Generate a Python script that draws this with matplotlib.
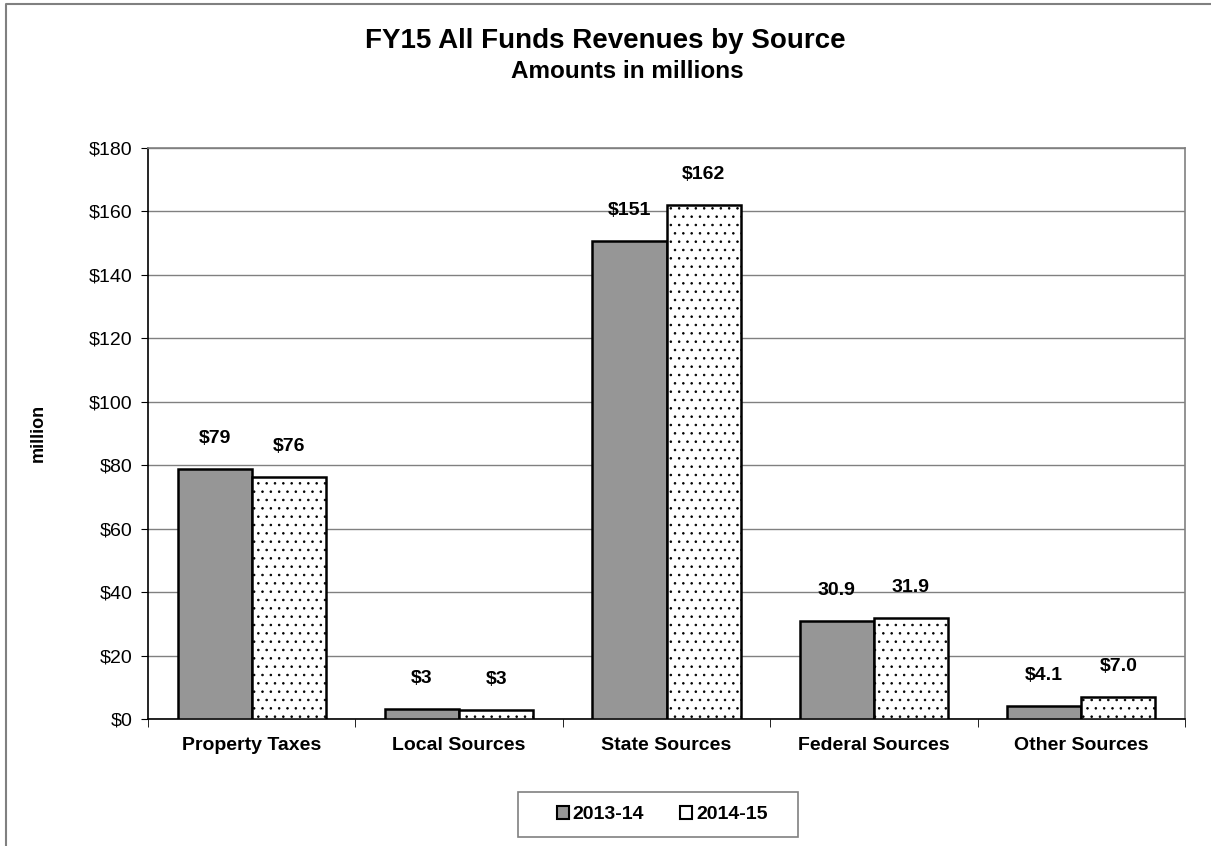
import matplotlib.pyplot as plt
import numpy as np
from matplotlib.lines import Line2D
from matplotlib.patches import Rectangle

plt.rcParams['font.family'] = ['Liberation Sans', 'DejaVu Sans']
plt.rcParams['hatch.linewidth'] = 0.6

categories = ["Property Taxes", "Local Sources", "State Sources", "Federal Sources", "Other Sources"]
fy14 = [78.8, 3.3, 150.8, 30.9, 4.1]
fy15 = [76.3, 2.8, 162.1, 31.9, 7.0]
labels14 = ["$79", "$3", "$151", "30.9", "$4.1"]
labels15 = ["$76", "$3", "$162", "31.9", "$7.0"]
series = ["2013-14", "2014-15"]
yticks = [0, 20, 40, 60, 80, 100, 120, 140, 160, 180]

fig = plt.figure(figsize=(12.11, 8.46), dpi=100)
ax = fig.add_axes([148/1211, 1 - 719/846, 1037/1211, 571/846])

x = np.arange(len(categories))
w = 0.357
b1 = ax.bar(x - w/2, fy14, w, color="#969696", edgecolor="black", linewidth=1.8,
            label=series[0], zorder=3)
b2 = ax.bar(x + w/2, fy15, w, color="white", edgecolor="black", linewidth=1.8,
            hatch="..", label=series[1], zorder=3)

for bars, texts in [(b1, labels14), (b2, labels15)]:
    for rect, txt in zip(bars, texts):
        ax.annotate(txt, (rect.get_x() + rect.get_width()/2, rect.get_height()),
                    xytext=(0, 22), textcoords="offset pixels", ha="center", va="bottom",
                    fontsize=14, fontweight="bold")

ax.set_xlim(-0.5, len(categories) - 0.5)
ax.set_ylim(0, 180)
ax.set_yticks(yticks)
ax.set_yticklabels(["$%d" % v for v in yticks], fontsize=14)
ax.set_xticks(x)
ax.set_xticklabels(categories, fontsize=14, fontweight="bold")
ax.tick_params(axis="x", length=0, pad=13)
ax.set_xticks(np.arange(len(categories) + 1) - 0.5, minor=True)
ax.tick_params(axis="x", which="minor", length=6, direction="out", color="black")
ax.tick_params(axis="y", length=5, direction="out", pad=6)
ax.grid(axis="y", color="#808080", linewidth=1, zorder=0)
ax.set_axisbelow(True)

ax.spines["left"].set_color("black")
ax.spines["bottom"].set_color("black")
ax.spines["top"].set_color("#808080")
ax.spines["right"].set_color("#808080")
for s in ax.spines.values():
    s.set_linewidth(1.2)

fig.text(38/1211, 1 - 433/846, "million", rotation=90, ha="center", va="center",
         fontsize=13, fontweight="bold")

fig.text(605/1211, 1 - 41/846, "FY15 All Funds Revenues by Source", ha="center", va="center",
         fontsize=20, fontweight="bold")
fig.text(627/1211, 1 - 72/846, "Amounts in millions", ha="center", va="center",
         fontsize=17.5, fontweight="bold")

# legend box drawn separately
fig.add_artist(Rectangle((518/1211, 1 - 837/846), 280/1211, 45/846, transform=fig.transFigure,
                         facecolor="white", edgecolor="#808080", linewidth=1.2))
leg = fig.legend(loc="center", bbox_to_anchor=(662/1211, 1 - 814.5/846), ncol=2,
                 frameon=False, prop={"weight": "bold", "size": 14},
                 handlelength=0.62, handleheight=0.62, handletextpad=0.2,
                 columnspacing=1.85, borderpad=0, borderaxespad=0)
for h in leg.legend_handles:
    h.set_hatch(None)
    h.set_linewidth(1.5)

fig.add_artist(Line2D([6/1211, 6/1211, 1.0], [0, 1 - 4/846, 1 - 4/846],
                      transform=fig.transFigure, color="#808080", linewidth=1.5))

fig.savefig("out.png", dpi=100)
